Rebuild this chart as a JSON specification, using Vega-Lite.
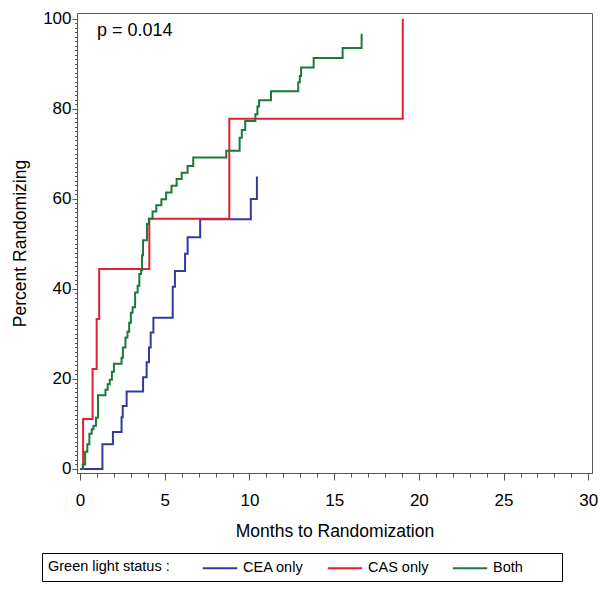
{
  "$schema": "https://vega.github.io/schema/vega-lite/v6.json",
  "width": 515,
  "height": 460,
  "autosize": {"type": "none"},
  "padding": {"left": 77, "top": 13, "right": 17, "bottom": 120},
  "background": "white",
  "config": {"view": {"stroke": "#555", "strokeWidth": 1}, "font": "Liberation Sans"},
  "encoding": {
    "x": {
      "field": "month", "type": "quantitative", "title": "Months to Randomization",
      "scale": {"domain": [-0.18, 30.22], "nice": false, "zero": false},
      "axis": {
        "values": [0,1,2,3,4,5,6,7,8,9,10,11,12,13,14,15,16,17,18,19,20,21,22,23,24,25,26,27,28,29,30],
        "labelExpr": "datum.value % 5 === 0 ? datum.label : ''",
        "tickSize": {"condition": {"test": "datum.value % 5 === 0", "value": 7}, "value": 4},
        "labelFontSize": 17, "labelColor": "black", "labelPadding": 12,
        "labelOverlap": false, "labelFlush": false,
        "titleFontSize": 17.5, "titleFontWeight": "normal", "titleColor": "black", "titlePadding": 14,
        "domainColor": "#555", "tickColor": "#555", "grid": false
      }
    },
    "y": {
      "field": "pct", "type": "quantitative", "title": "Percent Randomizing",
      "scale": {"domain": [-0.9, 101.3], "nice": false, "zero": false},
      "axis": {
        "values": [0,1,2,3,4,5,6,7,8,9,10,11,12,13,14,15,16,17,18,19,20,21,22,23,24,25,26,27,28,29,30,31,32,33,34,35,36,37,38,39,40,41,42,43,44,45,46,47,48,49,50,51,52,53,54,55,56,57,58,59,60,61,62,63,64,65,66,67,68,69,70,71,72,73,74,75,76,77,78,79,80,81,82,83,84,85,86,87,88,89,90,91,92,93,94,95,96,97,98,99,100],
        "labelExpr": "datum.value % 20 === 0 ? datum.label : ''",
        "tickSize": {"condition": {"test": "datum.value % 20 === 0", "value": 5}, "value": 2.5},
        "labelFontSize": 17, "labelColor": "black", "labelPadding": 1,
        "labelOverlap": false, "labelFlush": false,
        "titleFontSize": 17.5, "titleFontWeight": "normal", "titleColor": "black", "titlePadding": 13,
        "domainColor": "#555", "tickColor": "#555", "grid": false
      }
    }
  },
  "layer": [
    {
      "data": {"values": [
        {"status": "CEA only", "month": 0, "pct": 0},
        {"status": "CEA only", "month": 1.32, "pct": 5.5},
        {"status": "CEA only", "month": 1.94, "pct": 8.2},
        {"status": "CEA only", "month": 2.45, "pct": 11.5},
        {"status": "CEA only", "month": 2.52, "pct": 14.0},
        {"status": "CEA only", "month": 2.75, "pct": 17.2},
        {"status": "CEA only", "month": 3.72, "pct": 20.4},
        {"status": "CEA only", "month": 3.93, "pct": 23.7},
        {"status": "CEA only", "month": 4.07, "pct": 27.0},
        {"status": "CEA only", "month": 4.17, "pct": 30.3},
        {"status": "CEA only", "month": 4.33, "pct": 33.6},
        {"status": "CEA only", "month": 5.47, "pct": 40.5},
        {"status": "CEA only", "month": 5.6, "pct": 44.0},
        {"status": "CEA only", "month": 6.2, "pct": 47.8},
        {"status": "CEA only", "month": 6.35, "pct": 51.5},
        {"status": "CEA only", "month": 7.09, "pct": 55.5},
        {"status": "CEA only", "month": 10.08, "pct": 60.0},
        {"status": "CEA only", "month": 10.44, "pct": 65.0},
        {"status": "CAS only", "month": 0, "pct": 0},
        {"status": "CAS only", "month": 0.18, "pct": 11.1},
        {"status": "CAS only", "month": 0.74, "pct": 22.2},
        {"status": "CAS only", "month": 0.98, "pct": 33.3},
        {"status": "CAS only", "month": 1.13, "pct": 44.4},
        {"status": "CAS only", "month": 4.09, "pct": 55.6},
        {"status": "CAS only", "month": 8.81, "pct": 77.8},
        {"status": "CAS only", "month": 19.05, "pct": 100},
        {"status": "Both", "month": 0, "pct": 0},
        {"status": "Both", "month": 0.16, "pct": 1.0},
        {"status": "Both", "month": 0.3, "pct": 3.8},
        {"status": "Both", "month": 0.43, "pct": 5.5},
        {"status": "Both", "month": 0.55, "pct": 7.8},
        {"status": "Both", "month": 0.69, "pct": 8.8},
        {"status": "Both", "month": 0.79, "pct": 9.6},
        {"status": "Both", "month": 0.94, "pct": 11.4},
        {"status": "Both", "month": 1.06, "pct": 16.4},
        {"status": "Both", "month": 1.5, "pct": 17.6},
        {"status": "Both", "month": 1.63, "pct": 18.8},
        {"status": "Both", "month": 1.75, "pct": 19.8},
        {"status": "Both", "month": 1.88, "pct": 21.6},
        {"status": "Both", "month": 2.0, "pct": 23.4},
        {"status": "Both", "month": 2.45, "pct": 24.7},
        {"status": "Both", "month": 2.53, "pct": 27.0},
        {"status": "Both", "month": 2.68, "pct": 29.2},
        {"status": "Both", "month": 2.8, "pct": 30.5},
        {"status": "Both", "month": 2.9, "pct": 32.5},
        {"status": "Both", "month": 3.0, "pct": 34.7},
        {"status": "Both", "month": 3.1, "pct": 35.9},
        {"status": "Both", "month": 3.25, "pct": 39.2},
        {"status": "Both", "month": 3.4, "pct": 40.7},
        {"status": "Both", "month": 3.5, "pct": 43.3},
        {"status": "Both", "month": 3.6, "pct": 44.2},
        {"status": "Both", "month": 3.66, "pct": 47.5},
        {"status": "Both", "month": 3.72, "pct": 50.8},
        {"status": "Both", "month": 3.95, "pct": 54.4},
        {"status": "Both", "month": 4.06, "pct": 55.6},
        {"status": "Both", "month": 4.28, "pct": 57.2},
        {"status": "Both", "month": 4.5, "pct": 58.6},
        {"status": "Both", "month": 4.8, "pct": 59.9},
        {"status": "Both", "month": 5.08, "pct": 61.4},
        {"status": "Both", "month": 5.4, "pct": 62.9},
        {"status": "Both", "month": 5.7, "pct": 64.4},
        {"status": "Both", "month": 6.0, "pct": 65.8},
        {"status": "Both", "month": 6.35, "pct": 67.3},
        {"status": "Both", "month": 6.68, "pct": 69.2},
        {"status": "Both", "month": 8.63, "pct": 70.7},
        {"status": "Both", "month": 9.42, "pct": 73.6},
        {"status": "Both", "month": 9.55, "pct": 75.3},
        {"status": "Both", "month": 9.75, "pct": 77.3},
        {"status": "Both", "month": 10.35, "pct": 78.8},
        {"status": "Both", "month": 10.47, "pct": 80.5},
        {"status": "Both", "month": 10.57, "pct": 81.9},
        {"status": "Both", "month": 11.27, "pct": 83.9},
        {"status": "Both", "month": 12.88, "pct": 85.9},
        {"status": "Both", "month": 12.97, "pct": 87.3},
        {"status": "Both", "month": 13.05, "pct": 89.2},
        {"status": "Both", "month": 13.79, "pct": 91.3},
        {"status": "Both", "month": 15.5, "pct": 93.5},
        {"status": "Both", "month": 16.62, "pct": 96.7}
      ]},
      "mark": {"type": "line", "interpolate": "step-after", "strokeWidth": 2},
      "encoding": {
        "color": {
          "field": "status", "type": "nominal",
          "scale": {"domain": ["CEA only", "CAS only", "Both"], "range": ["#2F3C9E", "#E4202E", "#1B7A3A"]},
          "legend": {
            "orient": "none", "legendX": -35, "legendY": 540,
            "direction": "horizontal",
            "title": "Green light status :",
            "titleOrient": "left", "titleFontSize": 14.5, "titleFontWeight": "normal", "titleColor": "black",
            "titlePadding": 41, "titleBaseline": "middle",
            "labelFontSize": 14.5, "labelColor": "black", "labelOffset": 14,
            "labelExpr": "datum.label == 'Both' ? 'Both\u00a0\u00a0\u00a0\u00a0\u00a0\u00a0\u00a0\u00a0\u200b' : datum.label",
            "symbolType": "M-2.15,0H2.15", "symbolSize": 256, "symbolStrokeWidth": 2,
            "columnPadding": 19, "strokeColor": "black", "padding": 6
          }
        }
      }
    },
    {
      "data": {"values": [{"month": 1.0, "pct": 96.2, "label": "p = 0.014"}]},
      "mark": {"type": "text", "align": "left", "baseline": "alphabetic", "fontSize": 18, "color": "black"},
      "encoding": {
        "text": {"field": "label"}
      }
    }
  ]
}
